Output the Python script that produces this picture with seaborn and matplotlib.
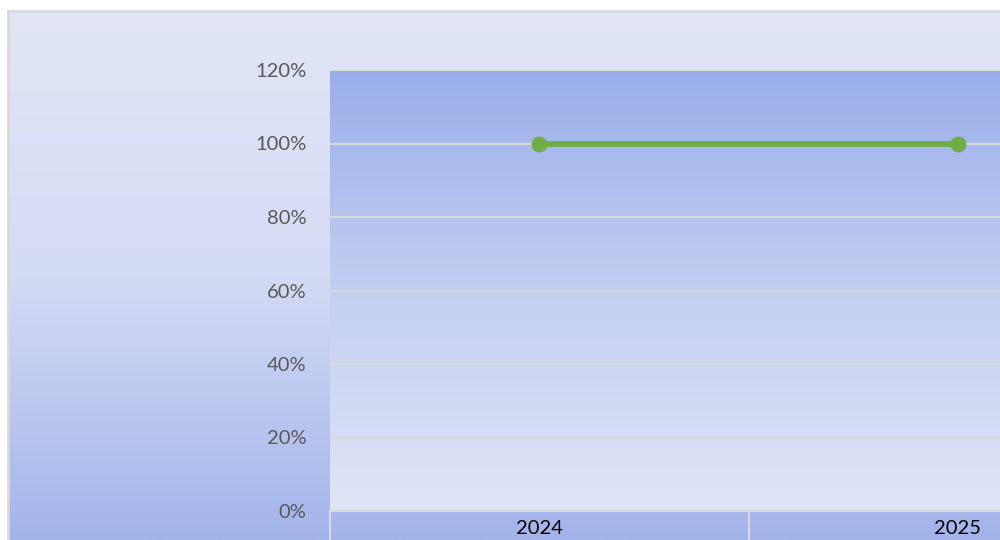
import numpy as np
import pandas as pd
import matplotlib
matplotlib.use('Agg')
import matplotlib.pyplot as plt
from matplotlib.colors import LinearSegmentedColormap
from matplotlib.ticker import PercentFormatter
import seaborn as sns

# data
years = ["2024", "2025"]
share = [1.0, 1.0]
y_ticks = [0, 0.2, 0.4, 0.6, 0.8, 1.0, 1.2]

df = pd.DataFrame({"year": years, "share": share})

sns.set_theme(style="white")
plt.rcParams['font.family'] = ['Lato', 'DejaVu Sans']

fig = plt.figure(figsize=(10, 5.4), dpi=100, facecolor="white")

# chart area background: light at top, darker blue at bottom
bg = fig.add_axes([8 / 1000, 0, 1.0, 529 / 540], zorder=0)
bg_cmap = LinearSegmentedColormap.from_list("bg", ["#E1E5F6", "#D4DBF4", "#A3B4EB"])
bg.imshow(np.linspace(0, 1, 256).reshape(-1, 1), cmap=bg_cmap, aspect='auto',
          extent=(0, 1, 0, 1), origin='upper')
bg.set_xlim(0, 1)
bg.set_ylim(0, 1)
bg.set_xticks([])
bg.set_yticks([])
for side in ["right", "bottom"]:
    bg.spines[side].set_visible(False)
for side in ["top", "left"]:
    bg.spines[side].set_color("#D9D9D9")
    bg.spines[side].set_linewidth(2)

# plot area (extends past the right edge, as in the cropped original)
ax = fig.add_axes([0.330, 1 - 511 / 540, 0.837, 441 / 540], zorder=1)
pa_cmap = LinearSegmentedColormap.from_list("pa", ["#9AAEE9", "#C3CEF1", "#E0E5F6"])
ax.imshow(np.linspace(0, 1, 256).reshape(-1, 1), cmap=pa_cmap, aspect='auto',
          extent=(-0.5, 1.5, 0, 1.2), origin='upper', zorder=0)

sns.lineplot(data=df, x="year", y="share", ax=ax, color="#70AD47", linewidth=4.2,
             marker="o", markersize=11.5, markeredgewidth=0, zorder=3)

ax.set_xlim(-0.5, 1.5)
ax.set_ylim(0, 1.2)
ax.set_yticks(y_ticks)
ax.yaxis.set_major_formatter(PercentFormatter(1.0, decimals=0))
ax.set_axisbelow(True)
ax.grid(axis='y', color="#D9D9D9", linewidth=1.5)
ax.grid(axis='x', visible=False)

ax.set_xticks([0, 1])
ax.set_xticklabels(years)
ax.set_xticks([-0.5, 0.5, 1.5], minor=True)
ax.tick_params(axis='x', which='major', bottom=True, length=0, pad=6.5, labelsize=14.5, labelcolor="black")
ax.tick_params(axis='x', which='minor', bottom=True, length=22, width=1.5, color="#D9D9D9", direction='out')
ax.tick_params(axis='y', length=0, pad=17, labelsize=14.5, labelcolor="#595959")

for side in ["top", "right", "left"]:
    ax.spines[side].set_visible(False)
ax.spines["bottom"].set_color("#D9D9D9")
ax.spines["bottom"].set_linewidth(1.5)

ax.set_xlabel("")
ax.set_ylabel("")

fig.savefig("out.png", dpi=100)
